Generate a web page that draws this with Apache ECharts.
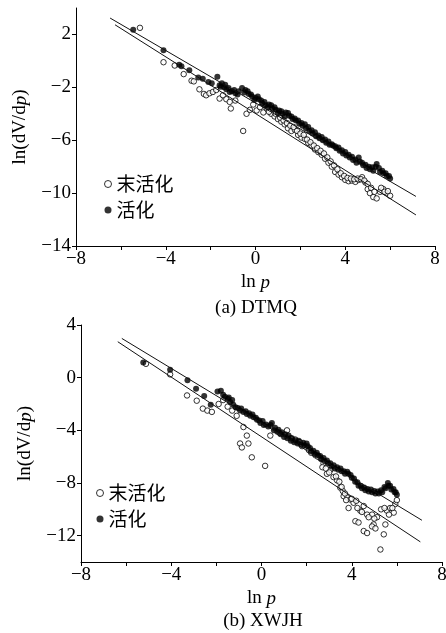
<!DOCTYPE html>
<html>
<head>
<meta charset="utf-8">
<script src="https://cdn.jsdelivr.net/npm/echarts@6/dist/echarts.min.js"></script>
<style>
html,body{margin:0;padding:0;background:#fff;}
#c{width:446px;height:633px;}
</style>
</head>
<body>
<div id="c"></div>
<script>
// ---------- data ----------
const xTicks = [-8, -6, -4, -2, 0, 2, 4, 6, 8];
const xLabels = [-8, -4, 0, 4, 8];
const yTicksA = [-14, -10, -6, -2, 2];
const yTicksB = [-12, -8, -4, 0, 4];
const seriesNames = ['末活化', '活化'];
const captions = ['(a) DTMQ', '(b) XWJH'];

// (a) DTMQ  未活化 (open circles)
const dtmqRaw = [[-5.15,2.5],[-4.1,-0.1],[-3.6,-0.35],[-3.2,-1.0],[-2.85,-1.5],[-2.75,-1.55],[-2.5,-2.15],[-2.3,-2.5],[-2.2,-2.6],[-2.05,-2.45],[-1.9,-2.35],[-1.75,-2.2],[-1.6,-2.85],[-1.45,-2.6],[-1.3,-2.9],[-1.15,-3.1],[-1.1,-3.6],[-0.9,-3.0],[-0.55,-5.3],[-0.4,-4.0],[-0.25,-3.7],[-0.1,-3.3],[0.05,-3.75],[0.2,-3.5],[0.35,-3.9],[0.5,-3.6],[0.7,-4.0],[0.85,-4.2],[1.0,-4.4],[1.15,-4.6],[1.3,-4.8],[1.45,-5.1],[1.6,-5.3],[1.75,-5.2],[1.9,-5.6],[2.05,-5.8],[2.2,-5.9],[2.35,-6.2],[2.5,-6.4],[2.65,-6.7],[2.8,-6.9],[2.95,-7.1],[3.1,-7.4],[3.25,-7.7],[3.4,-8.0],[3.55,-8.4],[3.7,-8.6],[3.85,-8.8],[4.0,-9.0],[4.15,-9.1],[4.3,-9.05],[4.45,-9.15],[4.6,-9.0],[4.75,-8.8],[4.9,-9.2],[5.0,-9.7],[5.1,-10.0],[5.25,-10.3],[5.4,-10.4],[5.55,-9.9],[5.7,-9.7],[5.85,-10.0],[6.0,-10.2],
  [0.6,-3.85],[0.9,-4.0],[1.1,-4.3],[1.25,-4.5],[1.4,-4.7],[1.55,-4.9],[1.7,-5.0],[1.85,-5.3],[2.0,-5.5],[2.15,-5.6],[2.3,-5.95],[2.45,-6.15],[2.6,-6.4],[2.75,-6.6],[2.9,-6.8],[3.05,-7.0],[3.2,-7.3],[3.35,-7.6],[3.5,-7.9],[3.65,-8.2],[3.8,-8.5],[3.95,-8.7],[4.1,-8.85],[4.25,-8.9],[4.4,-8.95],[4.55,-8.9],[4.7,-8.95],[4.85,-9.05],[5.0,-9.3],[5.15,-9.6],[5.3,-9.9],[5.6,-9.6],[5.75,-9.9],[5.9,-9.85]];
// (a) DTMQ  活化 (filled dots)
const dtmqAct = [[-5.45,2.35],[-4.1,0.8],[-3.4,-0.3],[-3.3,-0.4],[-2.95,-0.7],[-2.55,-1.25],[-2.35,-1.35],[-2.1,-1.6],[-1.95,-1.7],[-1.7,-1.2],[-1.6,-1.85],[-1.5,-1.7],[-1.4,-2.0],[-1.3,-2.15],[-1.2,-2.05],[-1.05,-2.3],[-0.9,-2.45],[-0.75,-2.3],[-0.6,-2.05],[-0.45,-2.2],[-0.3,-2.5],[-0.15,-2.7],[0.0,-2.8],[0.15,-2.9],[0.3,-3.2],[0.45,-3.35],[0.6,-3.3],[0.75,-3.6],[0.9,-3.7],[1.05,-3.75],[1.2,-4.0],[1.35,-3.9],[1.5,-4.15],[1.65,-4.4],[1.8,-4.5],[1.95,-4.75],[2.1,-4.9],[2.25,-5.1],[2.4,-5.3],[2.55,-5.5],[2.7,-5.7],[2.85,-5.85],[3.0,-6.0],[3.15,-6.2],[3.3,-6.35],[3.45,-6.4],[3.6,-6.6],[3.75,-6.8],[3.9,-7.0],[4.05,-7.15],[4.2,-7.3],[4.35,-7.5],[4.5,-7.7],[4.65,-7.6],[4.8,-7.9],[4.95,-8.1],[5.1,-8.2],[5.25,-8.3],[5.4,-7.8],[5.55,-8.4],[5.7,-8.5],[5.85,-8.7],[6.0,-8.9],
  [-1.55,-1.95],[-1.35,-1.8],[-1.15,-2.35],[-0.95,-2.2],[-0.8,-2.55],[-0.5,-2.4],[-0.35,-2.3],[-0.2,-2.55],[-0.05,-2.95],[0.1,-2.7],[0.25,-3.0],[0.4,-3.1],[0.55,-3.5],[0.7,-3.35],[0.85,-3.5],[1.0,-3.95],[1.15,-3.8],[1.3,-4.2],[1.45,-3.95],[1.6,-4.2],[1.75,-4.35],[1.9,-4.5],[2.05,-4.7],[2.2,-4.8],[2.35,-5.0],[2.5,-5.25],[2.65,-5.4],[2.8,-5.65],[2.95,-5.75],[3.1,-5.95],[3.25,-6.1],[3.4,-6.3],[3.55,-6.45],[3.7,-6.55],[3.85,-6.75],[4.0,-6.9],[4.15,-7.1],[4.3,-7.25],[4.45,-7.45],[4.6,-7.3],[4.75,-7.7],[4.9,-7.85],[5.05,-8.0],[5.2,-8.05],[5.35,-8.0],[5.5,-8.1],[5.65,-8.3],[5.8,-8.5],[5.95,-8.7]];
// (a) fitted lines
const dtmqFitAct = [[-6.48,3.24],[7.15,-10.25]];
const dtmqFitRaw = [[-6.26,2.73],[7.15,-11.65]];

// (b) XWJH  未活化 (open circles)
const xwjhRaw = [[-5.12,1.05],[-4.05,0.25],[-3.3,-1.35],[-2.87,-1.75],[-2.6,-2.35],[-2.4,-2.5],[-2.2,-2.6],[-1.9,-2.0],[-1.7,-1.7],[-1.5,-2.2],[-1.3,-2.5],[-1.1,-2.9],[-0.8,-3.75],[-0.65,-4.4],[-0.95,-5.0],[-0.58,-5.0],[-0.87,-5.3],[-0.43,-6.05],[0.16,-6.7],[0.39,-4.4],[1.13,-4.0],[0.8,-4.2],[1.5,-4.7],[1.8,-5.2],[2.1,-5.5],[2.4,-5.9],[2.6,-6.1],[2.75,-6.5],[2.9,-7.3],[3.05,-7.0],[3.19,-7.55],[3.35,-7.8],[3.49,-8.35],[3.6,-8.6],[3.64,-9.0],[3.8,-9.1],[3.93,-9.25],[4.08,-9.5],[3.86,-9.9],[4.16,-10.9],[4.38,-10.1],[4.53,-9.75],[4.53,-11.65],[4.68,-11.8],[4.68,-10.4],[4.9,-10.4],[4.97,-11.15],[4.9,-11.3],[5.12,-10.6],[5.27,-13.05],[5.42,-11.9],[5.49,-11.15],[5.56,-10.1],[5.7,-9.9],[5.86,-10.25],[5.93,-9.6],[6.0,-9.3],
  [1.3,-4.6],[1.7,-4.9],[2.2,-5.7],[2.5,-6.0],[2.7,-6.8],[2.85,-6.9],[3.0,-7.2],[3.3,-7.5],[3.45,-7.9],[3.55,-8.3],[3.7,-8.8],[3.75,-9.3],[4.0,-9.2],[4.2,-9.35],[4.25,-9.9],[4.45,-10.2],[4.75,-10.6],[5.0,-10.7],[5.3,-10.0],[5.45,-9.9],[5.8,-9.9],[5.65,-10.4],[4.3,-11.0],[5.05,-11.45]];
// (b) XWJH  活化 (filled dots)
const xwjhAct = [[-5.24,1.15],[-4.05,0.6],[-3.28,-0.2],[-2.9,-0.85],[-2.54,-1.4],[-2.25,-2.05],[-1.95,-1.05],[-1.8,-1.0],[-1.62,-1.45],[-1.5,-1.6],[-1.39,-1.85],[-1.25,-2.05],[-1.15,-2.25],[-0.95,-2.5],[-0.8,-2.6],[-0.65,-2.75],[-0.5,-2.9],[-0.35,-3.0],[-0.2,-3.2],[-0.05,-3.45],[0.1,-3.6],[0.3,-3.7],[0.46,-3.45],[0.55,-4.0],[0.7,-4.1],[0.85,-4.3],[1.0,-4.5],[1.15,-4.6],[1.3,-4.8],[1.45,-4.9],[1.6,-5.0],[1.75,-5.1],[1.9,-5.15],[2.05,-5.2],[2.2,-5.6],[2.35,-5.8],[2.5,-5.9],[2.65,-6.2],[2.8,-6.35],[2.95,-6.5],[3.1,-6.75],[3.25,-6.9],[3.4,-7.0],[3.55,-7.1],[3.7,-7.3],[3.85,-7.3],[4.0,-7.6],[4.15,-7.9],[4.3,-8.2],[4.45,-8.4],[4.6,-8.55],[4.75,-8.65],[4.9,-8.7],[5.05,-8.8],[5.2,-8.8],[5.35,-8.7],[5.5,-8.4],[5.63,-8.2],[5.75,-8.5],[5.9,-8.7],[6.0,-8.9],
  [-1.7,-1.3],[-1.45,-1.5],[-1.3,-1.7],[-1.05,-2.3],[-0.9,-2.35],[-0.7,-2.55],[-0.55,-2.7],[-0.4,-2.8],[-0.25,-3.05],[-0.1,-3.25],[0.05,-3.3],[0.2,-3.55],[0.4,-3.6],[0.6,-3.8],[0.75,-3.95],[0.9,-4.15],[1.05,-4.3],[1.2,-4.4],[1.35,-4.6],[1.5,-4.75],[1.65,-4.8],[1.85,-4.95],[2.0,-5.0],[2.15,-5.35],[2.3,-5.55],[2.45,-5.7],[2.6,-5.95],[2.75,-6.1],[2.9,-6.3],[3.05,-6.5],[3.2,-6.65],[3.35,-6.8],[3.5,-6.9],[3.65,-7.1],[3.8,-7.15],[3.95,-7.4],[4.1,-7.65],[4.25,-7.95],[4.4,-8.2],[4.55,-8.35],[4.7,-8.45],[4.85,-8.5],[5.0,-8.6],[5.15,-8.65],[5.3,-8.55],[5.45,-8.3],[5.6,-8.0],[5.7,-8.2],[5.85,-8.45],[5.95,-8.7]];
// (b) fitted lines
const xwjhFitAct = [[-6.19,2.98],[7.11,-10.83]];
const xwjhFitRaw = [[-6.37,2.73],[7.04,-12.47]];

// ---------- styling ----------
const SERIF = '"Liberation Serif","Times New Roman",serif';
const CJK = '"Noto Sans CJK SC",sans-serif';
const FS = 19;
const fmt = v => (v < 0 ? '\u2212' + (-v) : String(v));

function xAxis(gridIndex) {
  return {
    type: 'value', gridIndex, min: -8, max: 8, interval: 2,
    axisLine: {onZero: false, lineStyle: {color: '#000', width: 1}},
    axisTick: {customValues: xTicks, length: 4, lineStyle: {color: '#000'}},
    axisLabel: {customValues: xLabels, formatter: fmt, color: '#000', fontFamily: SERIF, fontSize: FS, margin: 4},
    splitLine: {show: false},
    name: '{n|ln }{i|p}', nameLocation: 'middle', nameGap: 27,
    nameTextStyle: {rich: {
      n: {fontFamily: SERIF, fontSize: FS, color: '#000'},
      i: {fontFamily: SERIF, fontSize: FS, fontStyle: 'italic', color: '#000'}
    }}
  };
}
function yAxis(gridIndex, ticks) {
  return {
    type: 'value', gridIndex, min: -14, max: 4, interval: 2,
    axisLine: {show: true, onZero: false, lineStyle: {color: '#000', width: 1}},
    axisTick: {show: true, customValues: ticks, length: 4, lineStyle: {color: '#000'}},
    axisLabel: {customValues: ticks, formatter: fmt, color: '#000', fontFamily: SERIF, fontSize: FS, margin: 5},
    splitLine: {show: false},
    name: '{n|ln(dV/d}{i|p}{n|)}', nameLocation: 'middle', nameGap: 46,
    nameTextStyle: {rich: {
      n: {fontFamily: SERIF, fontSize: FS, color: '#000'},
      i: {fontFamily: SERIF, fontSize: FS, fontStyle: 'italic', color: '#000'}
    }}
  };
}
const openStyle = {color: '#fff', borderColor: '#000', borderWidth: 1};
const fillStyle = {color: '#000'};
function scatter(name, data, idx, open) {
  return {
    type: 'scatter', name, data, xAxisIndex: idx, yAxisIndex: idx,
    symbol: 'circle', symbolSize: open ? 5.5 : 6,
    itemStyle: open ? openStyle : fillStyle, z: open ? 3 : 4
  };
}
function fit(data, idx) {
  return {
    type: 'line', data, xAxisIndex: idx, yAxisIndex: idx, showSymbol: false, silent: true,
    lineStyle: {color: '#111', width: 1}, z: 5
  };
}
function legend(left, top, gap) {
  return {
    orient: 'vertical', left, top, padding: 0, itemGap: 6, itemWidth: 7, itemHeight: 7, itemTextGap: gap,
    selectedMode: false,
    textStyle: {fontFamily: CJK, fontSize: FS, color: '#000', lineHeight: 20},
    data: [
      {name: seriesNames[0], icon: 'circle', itemStyle: openStyle},
      {name: seriesNames[1], icon: 'circle', itemStyle: fillStyle}
    ]
  };
}

const chart = echarts.init(document.getElementById('c'), null, {renderer: 'canvas'});
chart.setOption({
  animation: false,
  backgroundColor: '#fff',
  grid: [
    {left: 76, top: 8, width: 359, height: 238, containLabel: false, outerBoundsMode: 'none'},
    {left: 81, top: 325, width: 361, height: 237, containLabel: false, outerBoundsMode: 'none'}
  ],
  xAxis: [xAxis(0), xAxis(1)],
  yAxis: [yAxis(0, yTicksA), yAxis(1, yTicksB)],
  legend: [legend(104, 174, 8.5), legend(96, 483, 9.5)],
  series: [
    scatter(seriesNames[0], dtmqRaw, 0, true),
    scatter(seriesNames[1], dtmqAct, 0, false),
    fit(dtmqFitAct, 0),
    fit(dtmqFitRaw, 0),
    scatter(seriesNames[0], xwjhRaw, 1, true),
    scatter(seriesNames[1], xwjhAct, 1, false),
    fit(xwjhFitAct, 1),
    fit(xwjhFitRaw, 1)
  ],
  graphic: [
    {type: 'text', x: 256, y: 308, style: {text: captions[0], font: FS + 'px ' + SERIF, fill: '#000', textAlign: 'center', textVerticalAlign: 'middle'}},
    {type: 'text', x: 263, y: 621, style: {text: captions[1], font: FS + 'px ' + SERIF, fill: '#000', textAlign: 'center', textVerticalAlign: 'middle'}}
  ]
});
</script>
</body>
</html>
